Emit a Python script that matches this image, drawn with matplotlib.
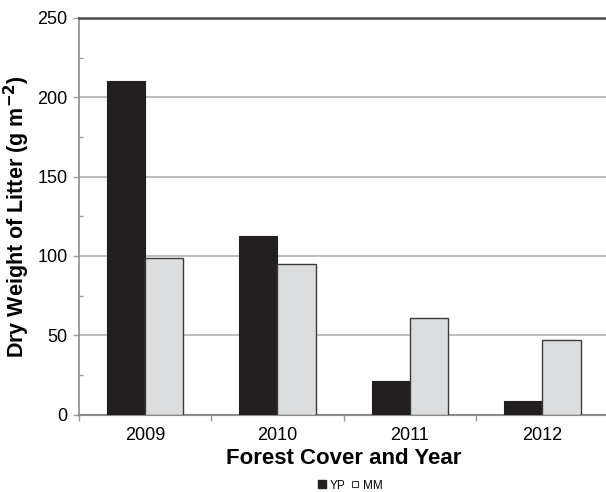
import matplotlib

matplotlib.use("Agg")

import matplotlib.pyplot as plt
import numpy as np
from matplotlib.lines import Line2D
from matplotlib.ticker import MultipleLocator

plt.rcParams["font.family"] = ["Liberation Sans", "DejaVu Sans"]

years = ["2009", "2010", "2011", "2012"]
yp = [210, 112.5, 21, 8.5]
mm = [98.5, 95, 61, 47]

x = np.arange(len(years))
width = 0.29

fig = plt.figure(figsize=(6.06, 4.92), dpi=100)
ax = fig.add_axes([78.7 / 606, 77.5 / 492, 530 / 606, 396.5 / 492])

ax.bar(x - width / 2, yp, width, color="#231f20", edgecolor="#231f20",
       linewidth=0.8, zorder=3, label="YP")
ax.bar(x + width / 2, mm, width, color="#dcdddf", edgecolor="#3a3a3a",
       linewidth=1.0, zorder=3, label="MM")

ax.set_xlim(-0.5, 3.5)
ax.set_ylim(0, 250)

ax.yaxis.set_major_locator(MultipleLocator(50))
ax.yaxis.set_minor_locator(MultipleLocator(25))
ax.grid(axis="y", which="major", color="#bdbdbd", linewidth=1.4, zorder=0)

ax.set_xticks(x)
ax.set_xticklabels(years)
ax.set_xticks(np.arange(-0.5, 4.0, 1.0), minor=True)
ax.tick_params(axis="x", which="major", length=0, labelsize=13, pad=9)
ax.tick_params(axis="x", which="minor", length=4, color="#999999", width=1)
ax.tick_params(axis="y", which="major", length=4, color="#999999", width=1,
               labelsize=13, pad=4)
ax.tick_params(axis="y", which="minor", direction="in", length=3,
               color="#999999", width=1)

ax.spines["right"].set_visible(False)
ax.spines["top"].set_color("#4a4a4a")
ax.spines["top"].set_linewidth(1.8)
ax.spines["left"].set_color("#8c8c8c")
ax.spines["left"].set_linewidth(1.2)
ax.spines["bottom"].set_color("#8c8c8c")
ax.spines["bottom"].set_linewidth(1.6)

ax.set_ylabel("Dry Weight of Litter (g m$^{\\mathbf{-2}}$)", fontsize=15.5,
              fontweight="bold")
ax.yaxis.set_label_coords(-0.088, 0.5)
ax.set_xlabel("Forest Cover and Year", fontsize=16, fontweight="bold",
              labelpad=3)

handles = [
    Line2D([], [], marker="s", linestyle="none", markersize=5.5,
           markerfacecolor="#231f20", markeredgecolor="#231f20"),
    Line2D([], [], marker="s", linestyle="none", markersize=5,
           markerfacecolor="#ffffff", markeredgecolor="#3a3a3a",
           markeredgewidth=0.8),
]
fig.legend(handles, ["YP", "MM"], loc="center",
           bbox_to_anchor=(0.578, 0.013), ncol=2, frameon=False,
           fontsize=8.5, handlelength=0.7, handletextpad=0.3,
           columnspacing=0.5, borderpad=0.1)

plt.savefig("out.png", dpi=100)
plt.close()
